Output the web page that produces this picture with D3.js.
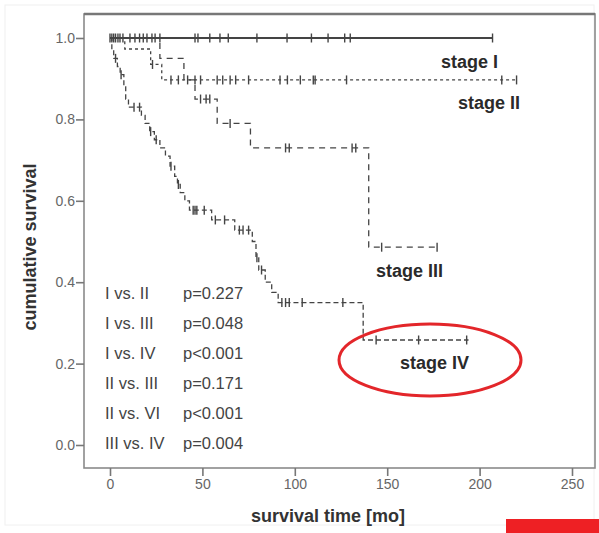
<!DOCTYPE html>
<html>
<head>
<meta charset="utf-8">
<script src="https://cdn.jsdelivr.net/npm/d3@7"></script>
<style>
  body { margin: 0; background: #fff; }
  text { font-family: "Liberation Sans", Arial, sans-serif; }
</style>
</head>
<body>
<svg id="chart" width="599" height="533"></svg>
<script>
// Kaplan-Meier steps: drop times [mo] and survival after each drop
var stage1Times = [];
var stage1Surv = [];
var stage1Censor = [0, 1, 2, 3, 4.3, 5.4, 7, 10.8, 13.5, 16, 18, 20, 22.7, 24.4, 27, 46, 47.6, 54, 59.5, 64, 79.5, 95.8, 109, 118, 127, 130, 207];
var stage1End = 207;

var stage2Times = [8, 22, 28];
var stage2Surv = [0.973, 0.935, 0.897];
var stage2Censor = [23, 33, 37, 42, 46, 49, 58, 61, 65, 68, 75, 92, 96, 103, 110, 111, 128, 212, 220];
var stage2End = 220;

var stage3Times = [27, 40, 46, 58, 76, 140];
var stage3Surv = [0.95, 0.897, 0.85, 0.79, 0.73, 0.486];
var stage3Censor = [49, 52, 54, 65, 95, 97, 131, 133, 147, 177];
var stage3End = 177;

var stage4Times = [1, 2, 4, 5.5, 7.5, 8.5, 10, 17, 19, 21.5, 24, 27, 30, 32.5, 35, 36.5, 38, 40.5, 43, 55, 67.5, 77, 79, 80.5, 84, 87.5, 91, 137];
var stage4Surv = [0.97, 0.95, 0.93, 0.91, 0.88, 0.85, 0.83, 0.81, 0.79, 0.77, 0.75, 0.73, 0.71, 0.685, 0.66, 0.64, 0.62, 0.6, 0.577, 0.553, 0.528, 0.5, 0.46, 0.43, 0.4, 0.375, 0.35, 0.258];
var stage4Censor = [3, 6, 13, 16, 22, 25, 33, 37, 45, 46, 47, 51, 57, 62, 70, 72, 75, 79.5, 82, 93, 95, 97, 104, 126, 144, 167, 193];
var stage4End = 194;

var xTicks = [0, 50, 100, 150, 200, 250];
var yTicks = [0, 0.2, 0.4, 0.6, 0.8, 1.0];

var pairLabels = ["I vs. II", "I vs. III", "I vs. IV", "II vs. III", "II vs. VI", "III vs. IV"];
var pValues = ["p=0.227", "p=0.048", "p<0.001", "p=0.171", "p<0.001", "p=0.004"];

var svg = d3.select("#chart");

var x = d3.scaleLinear().domain([0, 250]).range([110, 572]);
var y = d3.scaleLinear().domain([0, 1]).range([445, 38]);

var frame = { left: 84, top: 14, right: 595, bottom: 468 };

// faint outer border of the scanned figure
svg.append("rect")
    .attr("x", 5).attr("y", 5)
    .attr("width", 589).attr("height", 520)
    .attr("fill", "none")
    .attr("stroke", "#f0f0f0");

// plot frame
svg.append("rect")
    .attr("x", frame.left).attr("y", frame.top)
    .attr("width", frame.right - frame.left)
    .attr("height", frame.bottom - frame.top)
    .attr("fill", "none")
    .attr("stroke", "#8a8a8a")
    .attr("stroke-width", 1.6);
svg.append("line")
    .attr("x1", frame.left).attr("x2", frame.right)
    .attr("y1", frame.top).attr("y2", frame.top)
    .attr("stroke", "#777")
    .attr("stroke-width", 2.5);

// axes
var yAxis = svg.append("g")
    .attr("transform", "translate(" + frame.left + ",0)")
    .call(d3.axisLeft(y).tickValues(yTicks).tickFormat(d3.format(".1f")).tickSize(8).tickPadding(1));
var xAxis = svg.append("g")
    .attr("transform", "translate(0," + frame.bottom + ")")
    .call(d3.axisBottom(x).tickValues(xTicks).tickSize(8).tickPadding(3));

[yAxis, xAxis].forEach(function(a) {
    a.select(".domain").remove();
    a.selectAll("line").attr("stroke", "#777").attr("stroke-width", 1.6);
    a.selectAll("text")
        .attr("fill", "#666")
        .style("font-size", "14px");
});

svg.append("text")
    .attr("x", 328).attr("y", 522)
    .attr("text-anchor", "middle")
    .style("font-size", "18px")
    .style("font-weight", "bold")
    .attr("fill", "#333")
    .text("survival time [mo]");

svg.append("text")
    .attr("transform", "translate(36,247) rotate(-90)")
    .attr("text-anchor", "middle")
    .style("font-size", "18px")
    .style("font-weight", "bold")
    .attr("fill", "#333")
    .text("cumulative survival");

// curves
var stages = [
    { times: stage1Times, surv: stage1Surv, censor: stage1Censor, end: stage1End, dash: null, width: 1.8 },
    { times: stage2Times, surv: stage2Surv, censor: stage2Censor, end: stage2End, dash: "3,3", width: 1.3 },
    { times: stage3Times, surv: stage3Surv, censor: stage3Censor, end: stage3End, dash: "6,5", width: 1.3 },
    { times: stage4Times, surv: stage4Surv, censor: stage4Censor, end: stage4End, dash: "5,3", width: 1.3 }
];

var line = d3.line()
    .x(function(d) { return x(d[0]); })
    .y(function(d) { return y(d[1]); })
    .curve(d3.curveStepAfter);

function survivalAt(s, t) {
    var i = d3.bisectRight(s.times, t);
    return i === 0 ? 1 : s.surv[i - 1];
}

stages.forEach(function(s) {
    var pts = [[0, 1]];
    s.times.forEach(function(t, i) { pts.push([t, s.surv[i]]); });
    pts.push([s.end, s.surv.length ? s.surv[s.surv.length - 1] : 1]);

    svg.append("path")
        .attr("d", line(pts))
        .attr("fill", "none")
        .attr("stroke", "#444")
        .attr("stroke-width", s.width)
        .attr("stroke-dasharray", s.dash);

    svg.selectAll(null)
        .data(s.censor)
        .enter()
        .append("line")
            .attr("x1", function(d) { return x(d); })
            .attr("x2", function(d) { return x(d); })
            .attr("y1", function(d) { return y(survivalAt(s, d)) - 4.5; })
            .attr("y2", function(d) { return y(survivalAt(s, d)) + 4.5; })
            .attr("stroke", "#444")
            .attr("stroke-width", 1.4);
});

// curve labels
var stageLabels = [
    { text: "stage I", x: 441, y: 68 },
    { text: "stage II", x: 458, y: 109 },
    { text: "stage III", x: 376, y: 277 },
    { text: "stage IV", x: 400, y: 369 }
];
svg.selectAll(null)
    .data(stageLabels)
    .enter()
    .append("text")
        .attr("x", function(d) { return d.x; })
        .attr("y", function(d) { return d.y; })
        .style("font-size", "18px")
        .style("font-weight", "bold")
        .attr("fill", "#2a2a2a")
        .text(function(d) { return d.text; });

// log-rank comparisons
svg.selectAll(null)
    .data(pairLabels)
    .enter()
    .append("text")
        .attr("x", 105)
        .attr("y", function(d, i) { return 299 + i * 30; })
        .style("font-size", "16.5px")
        .attr("fill", "#444")
        .text(function(d) { return d; });
svg.selectAll(null)
    .data(pValues)
    .enter()
    .append("text")
        .attr("x", 183)
        .attr("y", function(d, i) { return 299 + i * 30; })
        .style("font-size", "16.5px")
        .attr("fill", "#444")
        .text(function(d) { return d; });

// red annotation marks
svg.append("ellipse")
    .attr("cx", 430).attr("cy", 360)
    .attr("rx", 91).attr("ry", 36)
    .attr("fill", "none")
    .attr("stroke", "#e3262a")
    .attr("stroke-width", 3);
svg.append("rect")
    .attr("x", 506).attr("y", 519)
    .attr("width", 93).attr("height", 14)
    .attr("fill", "#ee2024");
</script>
</body>
</html>
